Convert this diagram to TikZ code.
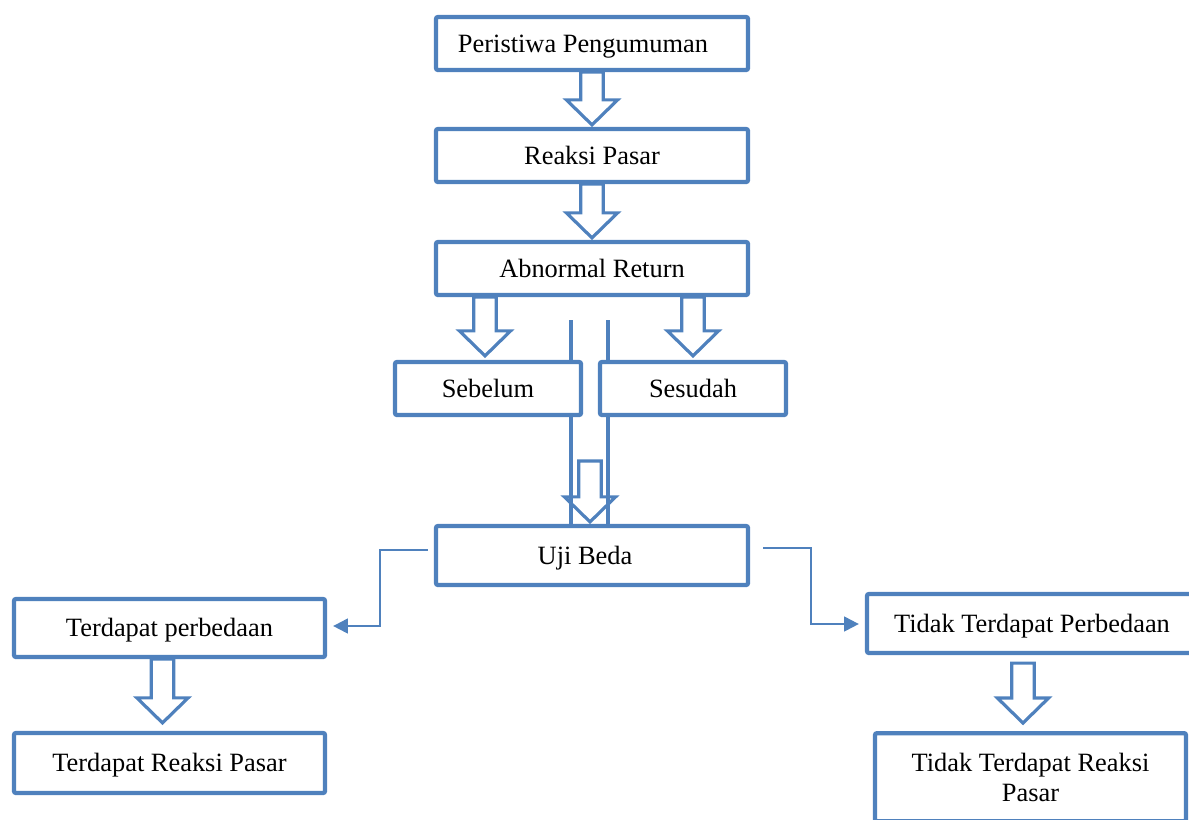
\documentclass[tikz,border=0pt]{standalone}
\usepackage{fontspec}
\setmainfont{Liberation Serif}
\usetikzlibrary{calc,arrows.meta,backgrounds}
\definecolor{boxblue}{RGB}{79,129,189}
\newcommand\blockarrow[2]{\draw[blk] let \p1=#1, \p2=#2 in
  (\x2-8.4pt,\y1) -- (\x2-8.4pt,\y2+18.75pt) -- (\x2-19.2pt,\y2+18.75pt) -- (\x2,\y2)
  -- (\x2+19.2pt,\y2+18.75pt) -- (\x2+8.4pt,\y2+18.75pt) -- (\x2+8.4pt,\y1) -- cycle;}
\tikzset{
  boxbase/.style={draw=boxblue, line width=3.2pt, fill=white, rounded corners=1.5pt, inner sep=0pt},
  box/.style={boxbase, text height=16pt, text depth=3pt},
  blk/.style={draw=boxblue, line width=2.4pt, line join=miter},
  vline/.style={draw=boxblue, line width=2.6pt},
  conn/.style={draw=boxblue, line width=1.6pt, -{Triangle[length=11pt,width=11pt]}}
}
\begin{document}
\begin{tikzpicture}[x=0.75pt, y=-0.75pt, font=\fontsize{19.8}{22.5}\selectfont]
\useasboundingbox (0,0) rectangle (1189,819);
\clip (0,0) rectangle (1189,819);

\node[box, minimum width=234pt, minimum height=39.75pt] (per) at (592,43.5) {\hspace*{-13.5pt}Peristiwa Pengumuman};
\node[box, minimum width=234pt, minimum height=39.75pt] (rea) at (592,155.5) {Reaksi Pasar};
\node[box, minimum width=234pt, minimum height=39.75pt] (abn) at (592,268.5) {Abnormal Return};
\node[box, minimum width=139.5pt, minimum height=39.75pt] (seb) at (488,388.5) {Sebelum};
\node[box, minimum width=139.5pt, minimum height=39.75pt] (ses) at (693,388.5) {Sesudah};
\node[box, minimum width=234pt, minimum height=44.25pt] (uji) at (592,555.5) {\hspace*{-10.5pt}Uji Beda};
\node[box, minimum width=233.25pt, minimum height=43.5pt] (ter) at (169.5,628) {Terdapat perbedaan};
\node[box, minimum width=233.25pt, minimum height=45pt] (trp) at (169.5,763) {Terdapat Reaksi Pasar};
\node[box, minimum width=247.5pt, minimum height=44.25pt] (tid) at (1032,623.5) {Tidak Terdapat Perbedaan};
\node[boxbase, align=center, anchor=north, minimum width=233.25pt, minimum height=66pt] (tdr) at (1030.5,731) {Tidak Terdapat Reaksi\\Pasar};

\coordinate (l1) at (571,320);
\coordinate (l2) at (608,320);
\coordinate (ujitop) at (590,461);
\begin{scope}[on background layer]
  \draw[vline] (l1) -- (l1 |- uji.north);
  \draw[vline] (l2) -- (l2 |- uji.north);
\end{scope}

\blockarrow{(per.south)}{([yshift=1.5pt]rea.north)}
\blockarrow{(rea.south)}{([yshift=1.5pt]abn.north)}
\blockarrow{(abn.south)}{([shift={(-3,-4)}]seb.north)}
\blockarrow{(abn.south)}{([shift={(0,-4)}]ses.north)}
\blockarrow{(ujitop)}{([shift={(-2,-2)}]uji.north)}
\blockarrow{(ter.south)}{([shift={(-7,-8)}]trp.north)}
\blockarrow{([yshift=-6pt]tid.south)}{([shift={(-7.5,-8)}]tdr.north)}

\draw[conn] ([shift={(-6,-5.5)}]uji.west) -| (380,600) |- ([shift={(6,-2)}]ter.east);
\draw[conn] ([shift={(13,-7.5)}]uji.east) -| (811,600) |- ([shift={(-6,0.5)}]tid.west);
\end{tikzpicture}
\end{document}
